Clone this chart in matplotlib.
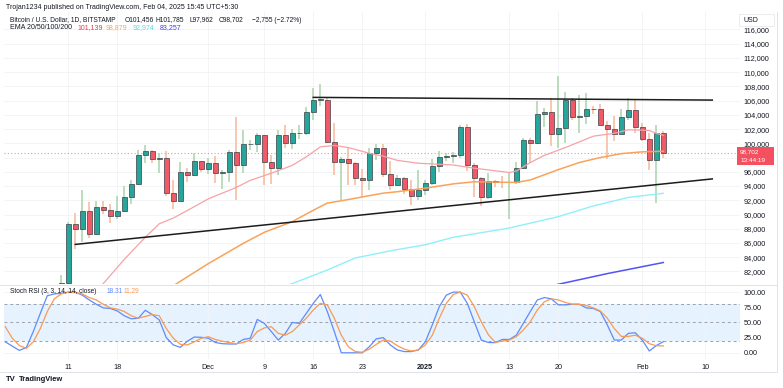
import matplotlib
matplotlib.use('Agg')
import matplotlib.pyplot as plt
import matplotlib.dates as mdates
import numpy as np
import pandas as pd
from matplotlib.patches import Rectangle

plt.rcParams['font.family'] = ['Liberation Sans', 'DejaVu Sans']

# ---------------- data (prices in thousands USD) ----------------
candle_dates = pd.date_range('2024-11-10', '2025-02-04', freq='D')
opens = [76.7, 80.4, 88.7, 88.0, 90.5, 87.2, 91.1, 90.6, 89.8, 90.5, 92.4, 94.3, 98.35, 98.95, 97.8,
         98.0, 93.0, 91.9, 95.9, 95.6, 97.45, 96.45, 97.2, 95.85, 95.95, 98.75, 96.95, 99.85, 99.9,
         101.15, 97.35, 96.6, 101.15, 100.0, 101.4, 101.45, 104.45, 106.1, 106.15, 100.2, 97.4, 97.75,
         97.25, 95.15, 94.85, 98.65, 99.35, 95.7, 94.15, 95.1, 93.6, 92.65, 93.4, 94.4, 96.85, 98.05,
         98.2, 98.3, 102.25, 96.95, 95.1, 92.5, 94.7, 94.6, 94.5, 94.55, 96.5, 100.5, 100.0, 104.1,
         104.45, 101.3, 102.1, 106.15, 103.7, 103.85, 104.8, 104.75, 102.6, 102.05, 101.3, 103.7,
         104.7, 102.35, 100.65, 97.7, 101.456]
highs = [81.5, 89.0, 90.2, 93.4, 91.8, 91.9, 91.9, 91.5, 92.6, 94.0, 94.9, 99.0, 99.8, 99.0, 98.7,
         98.9, 94.9, 97.4, 96.6, 98.7, 97.5, 97.9, 98.2, 96.3, 99.0, 103.7, 101.9, 100.5, 101.4,
         101.2, 98.3, 101.9, 102.5, 102.0, 102.6, 105.1, 107.8, 108.3, 106.5, 102.8, 98.1, 99.5,
         97.4, 96.4, 99.4, 99.9, 99.9, 97.5, 95.5, 95.2, 94.9, 96.2, 94.9, 97.8, 98.9, 98.7, 98.8,
         102.5, 102.7, 97.3, 95.3, 95.8, 94.9, 95.4, 95.9, 97.4, 100.7, 100.8, 105.9, 104.9, 106.3,
         109.4, 107.2, 106.4, 106.8, 107.0, 105.3, 105.5, 103.2, 103.8, 104.8, 106.4, 106.1, 102.8,
         101.5, 102.5, 101.785]
lows = [76.5, 80.2, 85.1, 86.2, 86.7, 87.1, 90.1, 88.8, 89.4, 90.4, 91.5, 94.1, 97.2, 97.2, 95.8,
        92.6, 90.8, 91.8, 94.6, 95.4, 96.0, 95.7, 94.4, 93.6, 94.6, 92.1, 95.8, 99.0, 98.8, 94.2,
        94.3, 95.6, 99.3, 99.2, 100.6, 101.2, 103.3, 105.3, 100.0, 95.6, 92.1, 94.2, 94.2, 92.4,
        93.5, 97.6, 95.2, 93.5, 94.1, 92.9, 91.4, 92.1, 92.8, 94.2, 96.0, 97.5, 97.3, 97.9, 96.1,
        92.5, 91.2, 92.2, 93.8, 93.7, 89.3, 94.3, 96.4, 97.3, 99.9, 102.3, 99.6, 99.4, 100.1, 103.3,
        101.4, 102.7, 104.1, 102.5, 97.8, 100.3, 101.3, 103.3, 101.5, 100.3, 96.2, 91.6, 97.962]
closes = [80.4, 88.7, 88.0, 90.5, 87.2, 91.1, 90.6, 89.8, 90.5, 92.4, 94.3, 98.35, 98.95, 97.8, 98.0,
          93.0, 91.9, 95.9, 95.6, 97.45, 96.45, 97.2, 95.85, 95.95, 98.75, 96.95, 99.85, 99.9, 101.15,
          97.35, 96.6, 101.15, 100.0, 101.4, 101.45, 104.45, 106.1, 106.15, 100.2, 97.4, 97.75, 97.25,
          95.15, 94.85, 98.65, 99.35, 95.7, 94.15, 95.1, 93.6, 92.65, 93.4, 94.4, 96.85, 98.05, 98.2,
          98.3, 102.25, 96.95, 95.1, 92.5, 94.7, 94.6, 94.5, 94.55, 96.5, 100.5, 100.0, 104.1, 104.45,
          101.3, 102.1, 106.15, 103.7, 103.85, 104.8, 104.75, 102.6, 102.05, 101.3, 103.7, 104.7,
          102.35, 100.65, 97.7, 101.45, 98.702]

ema20_dates = ['2024-11-15', '2024-11-16', '2024-11-19', '2024-11-22', '2024-11-24', '2024-11-26',
               '2024-11-29', '2024-12-01', '2024-12-05', '2024-12-07', '2024-12-10', '2024-12-13',
               '2024-12-15', '2024-12-17', '2024-12-19', '2024-12-21', '2024-12-24', '2024-12-26',
               '2024-12-28', '2024-12-31', '2025-01-05', '2025-01-08', '2025-01-13', '2025-01-14',
               '2025-01-16', '2025-01-18', '2025-01-21', '2025-01-23', '2025-01-25', '2025-01-28',
               '2025-01-30', '2025-02-01', '2025-02-02', '2025-02-03', '2025-02-04']
ema20 = [79.1, 80.3, 83.7, 86.8, 88.7, 89.5, 91.1, 92.2, 93.8, 94.8, 95.8, 96.9, 98.1, 99.5, 99.7,
         99.4, 98.6, 98.2, 97.6, 97.2, 96.95, 96.5, 95.9, 96.1, 97.3, 98.3, 99.4, 100.2, 101.0, 101.4,
         101.9, 101.85, 101.8, 101.4, 101.139]
ema50_dates = ['2024-11-23', '2024-11-26', '2024-12-01', '2024-12-06', '2024-12-09', '2024-12-13',
               '2024-12-16', '2024-12-18', '2024-12-21', '2024-12-24', '2024-12-26', '2024-12-28',
               '2025-01-01', '2025-01-05', '2025-01-08', '2025-01-14', '2025-01-16', '2025-01-20',
               '2025-01-23', '2025-01-26', '2025-01-29', '2025-02-01', '2025-02-04']
ema50 = [79.0, 80.0, 83.1, 85.95, 87.5, 89.0, 90.6, 91.6, 92.1, 92.65, 93.0, 93.2, 93.7, 94.3, 94.6,
         94.5, 94.85, 96.3, 97.3, 98.0, 98.55, 98.8, 98.879]
ema100_dates = ['2024-12-09', '2024-12-13', '2024-12-18', '2024-12-22', '2024-12-27', '2025-01-01',
                '2025-01-05', '2025-01-13', '2025-01-20', '2025-01-25', '2025-01-30', '2025-02-04']
ema100 = [79.2, 80.3, 82.2, 83.9, 84.9, 85.75, 86.8, 88.1, 89.7, 91.2, 92.4, 92.974]
ema200_dates = ['2025-01-16', '2025-01-20', '2025-01-27', '2025-02-04']
ema200 = [79.4, 80.2, 81.7, 83.257]

trend_upper_dates = ['2024-12-16', '2025-02-11']
trend_upper = [106.45, 106.07]
trend_lower_dates = ['2024-11-12', '2025-02-11']
trend_lower = [85.8, 95.0]

rsi_dates = pd.date_range('2024-11-02', '2025-02-04', freq='D')
stoch_k = [18, 11, 4, 8.5, 35, 65, 94, 97, 98, 100, 100, 95, 87, 80, 74, 73, 69, 61, 56, 57, 70, 63,
           54, 25, 13, 9, 19, 26, 25.5,
           24, 17, 15, 14.5, 14.5, 22, 24, 55, 48.5, 35, 21, 32, 50, 48.5, 65, 81.5, 96, 68, 35, 0, 0,
           0, 0, 10, 23, 25, 13, 4.7, 2, 2, 4.7,
           18, 46, 76, 95, 100, 100, 81.5, 51, 21, 17, 16.7, 22, 22, 29, 48.5, 68, 87, 91, 89, 79, 79,
           80, 80, 74, 73, 68, 46, 21, 21, 32, 33,
           21, 3, 12, 18.31]
stoch_d = [43, 24, 12, 7.4, 18, 40, 68, 89, 97, 100, 99, 97, 91, 87, 80, 74, 72, 68, 61, 57, 60, 63,
           61, 40, 24, 14, 13, 18, 24,
           26.6, 22, 19, 17, 15, 17, 21, 35, 41, 43, 32, 29, 35, 46, 57, 70.6, 81.5, 79, 57, 29, 10, 2,
           1, 6, 14, 21, 19.4, 11.7, 6, 3, 4.7,
           13, 29, 57, 81.5, 96, 100, 95, 76, 51, 30, 17, 19.4, 21, 26.6, 37.5, 51, 70.6, 84, 89, 87,
           83, 80, 80, 78, 74, 69, 57, 40, 27, 27, 29,
           24, 15, 11.7, 11.29]

price_ticks = list(range(82000, 116001, 2000))
rsi_ticks = [0, 25, 50, 75, 100]
time_tick_dates = ['2024-11-11', '2024-11-18', '2024-12-01', '2024-12-09', '2024-12-16', '2024-12-23',
                   '2025-01-01', '2025-01-13', '2025-01-20', '2025-02-01', '2025-02-10']
time_tick_labels = ['11', '18', 'Dec', '9', '16', '23', '2025', '13', '20', 'Feb', '10']

last_price = 98702

# ---------------- figure ----------------
W, H = 783, 388
fig = plt.figure(figsize=(W / 100, H / 100), dpi=100)
fig.patch.set_facecolor('white')

def fx(px):
    return px / W

def fy(py):
    return 1 - py / H

ax = fig.add_axes([fx(4), fy(284), fx(740) - fx(4), fy(12) - fy(284)])
ax2 = fig.add_axes([fx(4), fy(359), fx(740) - fx(4), fy(285) - fy(359)], sharex=ax)

def dnum(lst):
    return mdates.date2num(pd.to_datetime(lst))

xc = dnum(candle_dates)
o = np.array(opens) * 1000
h = np.array(highs) * 1000
l = np.array(lows) * 1000
c = np.array(closes) * 1000
up = c >= o

up_body, dn_body = '#26a69a', '#f05a68'
up_wick, dn_wick = '#a9d3ab', '#f7b899'
wick_cols = [up_wick if u else dn_wick for u in up]
ax.vlines(xc, l, h, colors=wick_cols, linewidth=1.1, zorder=2)
body_h = np.maximum(np.abs(c - o), 70)
body_b = np.minimum(o, c)
ax.bar(xc, body_h, bottom=body_b, width=0.72,
       color=[up_body if u else dn_body for u in up],
       edgecolor='#3b3f45', linewidth=0.5, zorder=3)

# EMAs
ax.plot(dnum(ema20_dates), np.array(ema20) * 1000, color='#f5a3a6', lw=0.9, zorder=4)
ax.plot(dnum(ema50_dates), np.array(ema50) * 1000, color='#f9a35a', lw=1.1, zorder=4)
ax.plot(dnum(ema100_dates), np.array(ema100) * 1000, color='#8ff0fb', lw=1.0, zorder=4)
ax.plot(dnum(ema200_dates), np.array(ema200) * 1000, color='#5353f2', lw=1.1, zorder=4)

# trend lines
ax.plot(dnum(trend_upper_dates), np.array(trend_upper) * 1000, color='#1c1c1c', lw=1.1, zorder=5)
ax.plot(dnum(trend_lower_dates), np.array(trend_lower) * 1000, color='#1c1c1c', lw=1.1, zorder=5)

# last price dotted line
ax.axhline(last_price, color='#f23645', lw=0.8, ls=(0, (1, 2)), alpha=0.55, zorder=1)

base = mdates.date2num(pd.Timestamp('2024-11-11'))
ax.set_xlim(base + (4 - 68.3) / 7, base + (740 - 68.3) / 7)
ax.set_ylim(80240, 118440)

for a in (ax, ax2):
    for s in a.spines.values():
        s.set_visible(False)
    a.set_facecolor('none')

ax.yaxis.tick_right()
ax.set_yticks(price_ticks)
# the 98,000 label sits under the last-price tag in the reference
ax.set_yticklabels(['' if v == 98000 else f'{v:,}' for v in price_ticks])
ax.tick_params(axis='y', length=0, pad=2.5, labelsize=5.2, labelcolor='#131722')
ax.tick_params(axis='x', length=0, labelbottom=False)
ax.set_xticks(dnum(time_tick_dates))
ax.grid(True, color='#f1f2f5', lw=0.6, zorder=0)
ax.set_axisbelow(True)

# ---------------- Stoch RSI ----------------
xr = dnum(rsi_dates)
ax2.axhspan(20, 80, color='#e6f2fd', zorder=0, lw=0)
for lvl in (80, 50, 20):
    ax2.axhline(lvl, color='#9ca0aa', lw=0.7, ls=(0, (3, 3)), zorder=1)
for lvl in (0, 100):
    ax2.axhline(lvl, color='#f1f2f5', lw=0.6, zorder=0)
ax2.plot(xr, stoch_k, color='#5f8bfb', lw=0.9, zorder=3)
ax2.plot(xr, stoch_d, color='#f99a55', lw=0.9, zorder=3)
ax2.set_ylim(-10.2, 111.7)
ax2.yaxis.tick_right()
ax2.set_yticks(rsi_ticks)
ax2.set_yticklabels([f'{v:.2f}' for v in rsi_ticks])
ax2.tick_params(axis='y', length=0, pad=2.5, labelsize=5.2, labelcolor='#131722')
ax2.set_xticks(dnum(time_tick_dates))
ax2.set_xticklabels(time_tick_labels)
ax2.tick_params(axis='x', length=0, pad=3.5, labelsize=5.2, labelcolor='#131722')
for t in ax2.get_xticklabels():
    if t.get_text() == '2025':
        t.set_fontweight('bold')
ax2.grid(True, axis='x', color='#f1f2f5', lw=0.6, zorder=0)
ax2.set_axisbelow(True)

# pane separator and chart frame
frame = '#e0e3eb'
fig.add_artist(plt.Line2D([0, fx(776.5)], [fy(284.5), fy(284.5)], color=frame, lw=0.7))
fig.add_artist(plt.Line2D([0, fx(776.5)], [fy(371.7), fy(371.7)], color=frame, lw=0.7))
fig.add_artist(plt.Line2D([fx(776.5), fx(776.5)], [fy(12), fy(371.7)], color=frame, lw=0.7))

# ---------------- header texts ----------------
fs = 5.0
dark = '#131722'
fig.text(fx(6), fy(7.3), 'Trojan1234 published on TradingView.com, Feb 04, 2025 15:45 UTC+5:30',
         fontsize=fs, color=dark, va='center', ha='left')
row2 = [(10, 'Bitcoin / U.S. Dollar, 1D, BITSTAMP', 4.8), (125, 'O101,456', 4.8),
        (156, 'H101,785', 4.8), (189.3, 'L97,962', 4.8), (218.3, 'C98,702', 4.8),
        (251.7, '\u22122,755 (\u22122.72%)', 4.8)]
for px, s, f in row2:
    fig.text(fx(px), fy(20), s, fontsize=f, color=dark, va='center', ha='left')
fig.text(fx(10), fy(27.5), 'EMA 20/50/100/200', fontsize=fs, color=dark, va='center', ha='left')
for px, s, col in [(77.7, '101,139', '#f23645'), (106, '98,879', '#f9a35a'),
                   (132.7, '92,974', '#52dbe8'), (159.3, '83,257', '#4040f0')]:
    fig.text(fx(px), fy(27.5), s, fontsize=fs, color=col, va='center', ha='left')

fig.text(fx(10), fy(291.7), 'Stoch RSI (3, 3, 14, 14, close)', fontsize=4.7, color=dark,
         va='center', ha='left')
fig.text(fx(106.7), fy(291.7), '18.31', fontsize=4.7, color='#5f8bfb', va='center', ha='left')
fig.text(fx(123.3), fy(291.7), '11.29', fontsize=4.7, color='#f99a55', va='center', ha='left')

# USD box
fig.add_artist(Rectangle((fx(739), fy(25.5)), fx(774) - fx(739), fy(14.5) - fy(25.5),
                         facecolor='white', edgecolor='#e8e9ee', lw=0.6))
fig.text(fx(743), fy(20), 'USD', fontsize=fs, color=dark, va='center', ha='left')

# last price label
fig.add_artist(Rectangle((fx(737), fy(165)), fx(774) - fx(737), fy(147) - fy(165),
                         facecolor='#f5505f', edgecolor='none'))
fig.text(fx(740), fy(152.0), f'{last_price:,}', fontsize=4.6, color='white', va='center', ha='left')
fig.text(fx(740), fy(160.2), '13:44:19', fontsize=4.6, color='white', va='center', ha='left')

# footer logo
fig.text(fx(6), fy(379.5), 'TV', fontsize=5.6, color=dark, fontweight='heavy', va='center', ha='left')
fig.text(fx(19.3), fy(379.5), 'TradingView', fontsize=5.4, color=dark, fontweight='bold',
         va='center', ha='left')

fig.savefig('out.png', dpi=100, facecolor='white')
